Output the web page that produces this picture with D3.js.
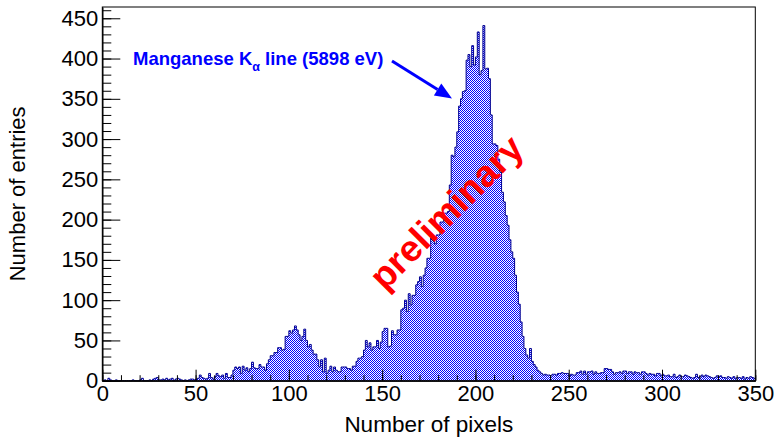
<!DOCTYPE html>
<html>
<head>
<meta charset="utf-8">
<script src="https://cdn.jsdelivr.net/npm/d3@7"></script>
<style>
  body { margin: 0; background: #fff; }
  svg { display: block; }
  text { font-family: "Liberation Sans", Arial, Helvetica, sans-serif; }
</style>
</head>
<body>
<script>
'use strict';

// bin contents, one bin per pixel count (0..349)
const counts = [
  0,1,0,3,1,0,0,1,0,0,
  0,0,0,0,0,0,1,0,0,0,
  1,3,0,0,0,1,0,2,3,4,
  1,1,2,1,3,1,2,3,0,2,
  3,2,1,0,1,0,1,2,2,1,
  2,3,7,4,3,2,3,9,4,2,
  5,9,6,5,7,3,9,4,4,7,
  13,17,15,17,9,18,13,16,11,15,
  23,16,15,15,20,17,17,13,21,26,
  31,31,35,35,41,41,38,39,55,55,
  62,59,63,68,63,57,50,55,64,50,
  42,45,38,33,33,26,17,26,11,28,
  9,13,18,11,17,13,11,11,17,17,
  17,15,15,13,18,18,24,28,28,
  30,38,50,42,47,38,42,42,50,40,
  48,61,65,65,42,43,62,57,57,63,
  63,88,90,100,86,108,94,106,106,119,
  123,129,117,131,140,152,152,177,177,170,
  181,181,197,197,208,208,210,243,280,278,
  290,309,341,350,359,360,398,405,390,416,
  392,402,433,380,385,441,387,388,375,330,
  294,294,292,275,259,234,222,205,193,175,
  160,152,131,110,95,73,55,40,32,28,
  40,24,20,17,13,11,9,7,8,
  7,7,6,8,8,7,9,9,10,9,
  9,9,6,8,7,7,10,10,12,8,
  12,8,11,11,12,8,11,9,9,10,
  10,15,15,14,14,11,8,10,10,11,
  9,12,12,9,11,11,8,11,10,10,
  8,11,11,9,7,9,8,8,6,9,
  9,6,8,6,6,7,5,5,8,4,
  5,7,5,5,7,6,5,4,3,4,
  8,4,5,7,5,7,6,5,4,3,
  4,6,5,6,4,4,3,5,4,3,
  5,3,4,4,3,5,2,4,3,5,
  4,3
];
const xRange = [0, 350];
const yRange = [0, 464];
const xTicks = [0, 50, 100, 150, 200, 250, 300, 350];
const yTicks = [0, 50, 100, 150, 200, 250, 300, 350, 400, 450];
const xTitle = "Number of pixels";
const yTitle = "Number of entries";
const watermark = "preliminary";

const width = 777, height = 438;
const frame = { left: 102.3, right: 755.3, top: 7, bottom: 380.7 };

const svg = d3.select('body').append('svg')
  .attr('width', width)
  .attr('height', height);

const x = d3.scaleLinear().domain(xRange).range([frame.left, frame.right]);
const y = d3.scaleLinear().domain(yRange).range([frame.bottom, frame.top]);

// 50% dot pattern like the ROOT fill style
const pat = svg.append('defs').append('pattern')
  .attr('id', 'dots')
  .attr('patternUnits', 'userSpaceOnUse')
  .attr('width', 2)
  .attr('height', 2);
pat.append('rect').attr('width', 2).attr('height', 2).attr('fill', '#fff');
pat.append('rect').attr('x', 0).attr('y', 0).attr('width', 1).attr('height', 1).attr('fill', '#0000ff');
pat.append('rect').attr('x', 1).attr('y', 1).attr('width', 1).attr('height', 1).attr('fill', '#0000ff');

// step outline of the histogram
let pts = [[0, 0]];
counts.forEach(function(c, i) {
  pts.push([i, c]);
  pts.push([i + 1, c]);
});
pts.push([counts.length, 0]);

const line = d3.line()
  .x(function(d) { return x(d[0]); })
  .y(function(d) { return y(d[1]); });

svg.append('path')
  .attr('d', line(pts) + 'Z')
  .attr('fill', 'url(#dots)')
  .attr('stroke', 'none');

svg.append('path')
  .attr('d', line(pts))
  .attr('fill', 'none')
  .attr('stroke', '#00008f')
  .attr('stroke-width', 1);

// axes, ticks pointing inside the frame
const xMinor = d3.range(0, 351, 10);
const yMinor = d3.range(0, 461, 10);

svg.append('g')
  .attr('transform', 'translate(0,' + frame.bottom + ')')
  .call(d3.axisBottom(x).tickValues(xMinor).tickSize(-5.5).tickSizeOuter(0).tickFormat(''));
svg.append('g')
  .attr('transform', 'translate(0,' + frame.bottom + ')')
  .call(d3.axisBottom(x).tickValues(xTicks).tickSize(-11).tickSizeOuter(0).tickPadding(5));

svg.append('g')
  .attr('transform', 'translate(' + frame.left + ',0)')
  .call(d3.axisLeft(y).tickValues(yMinor).tickSize(-9).tickSizeOuter(0).tickFormat(''));
svg.append('g')
  .attr('transform', 'translate(' + frame.left + ',0)')
  .call(d3.axisLeft(y).tickValues(yTicks).tickSize(-18).tickSizeOuter(0).tickPadding(4));

svg.selectAll('.tick text')
  .style('font-size', '22px')
  .style('font-family', '"Liberation Sans", Arial, sans-serif')
  .attr('fill', '#000');
svg.selectAll('.tick line').attr('stroke', '#000');
svg.selectAll('.domain').attr('stroke', '#000');

// frame
svg.append('rect')
  .attr('x', frame.left)
  .attr('y', frame.top)
  .attr('width', frame.right - frame.left)
  .attr('height', frame.bottom - frame.top)
  .attr('fill', 'none')
  .attr('stroke', '#000')
  .attr('stroke-width', 1);

// axis titles
svg.append('text')
  .attr('x', (frame.left + frame.right) / 2)
  .attr('y', 432)
  .attr('text-anchor', 'middle')
  .style('font-size', '22.5px')
  .text(xTitle);

svg.append('text')
  .attr('transform', 'translate(25,' + ((frame.top + frame.bottom) / 2) + ')rotate(-90)')
  .attr('text-anchor', 'middle')
  .style('font-size', '22px')
  .text(yTitle);

// annotation with arrow
const note = svg.append('text')
  .attr('x', 133)
  .attr('y', 65)
  .attr('fill', '#0000ff')
  .style('font-size', '18.5px')
  .style('font-weight', 'bold');
note.append('tspan').text('Manganese K');
note.append('tspan').attr('dy', 6).style('font-size', '12.5px').text('α');
note.append('tspan').attr('dy', -6).text(' line (5898 eV)');

const a0 = [392, 61], a1 = [452, 98.5];
const ang = Math.atan2(a1[1] - a0[1], a1[0] - a0[0]);
const headLen = 17, headW = 7;
const base = [a1[0] - headLen * Math.cos(ang), a1[1] - headLen * Math.sin(ang)];
svg.append('line')
  .attr('x1', a0[0]).attr('y1', a0[1])
  .attr('x2', base[0]).attr('y2', base[1])
  .attr('stroke', '#0000ff')
  .attr('stroke-width', 3);
svg.append('path')
  .attr('d', 'M' + a1[0] + ',' + a1[1] +
    'L' + (base[0] + headW * Math.sin(ang)) + ',' + (base[1] - headW * Math.cos(ang)) +
    'L' + (base[0] - headW * Math.sin(ang)) + ',' + (base[1] + headW * Math.cos(ang)) + 'Z')
  .attr('fill', '#0000ff');

// watermark
svg.append('text')
  .attr('transform', 'translate(446,212)rotate(-45)')
  .attr('text-anchor', 'middle')
  .attr('dy', '0.35em')
  .attr('fill', '#ff0000')
  .style('font-size', '37px')
  .style('font-weight', 'bold')
  .text(watermark);
</script>
</body>
</html>
